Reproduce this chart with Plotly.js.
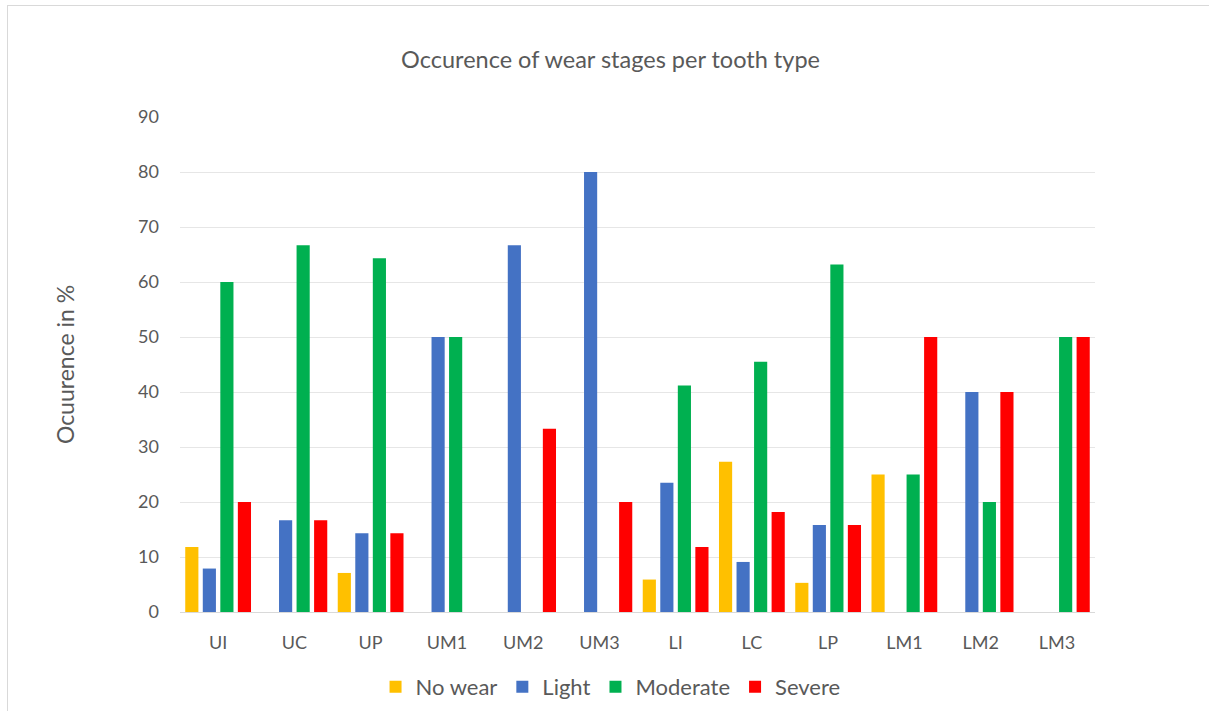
<!DOCTYPE html>
<html>
<head>
<meta charset="utf-8">
<script src="https://cdn.plot.ly/plotly-3.0.1.min.js"></script>
<style>
html,body{margin:0;padding:0;background:#fff;}
#wrap{position:absolute;left:0;top:0;width:1209px;height:711px;overflow:hidden;}
#frame{position:absolute;left:7px;top:5px;width:1210px;height:720px;border-left:1px solid #d9d9d9;border-top:1px solid #d9d9d9;box-sizing:border-box;pointer-events:none;}
#chart{position:absolute;left:0;top:0;width:1209px;height:711px;}
</style>
</head>
<body>
<div id="wrap">
<div id="chart"></div>
<div id="frame"></div>
</div>
<script>
const categories = ["UI","UC","UP","UM1","UM2","UM3","LI","LC","LP","LM1","LM2","LM3"];
const noWear   = [11.8, null, 7.1, null, null, null, 5.9, 27.3, 5.3, 25, null, null];
const light    = [7.9, 16.7, 14.3, 50, 66.7, 80, 23.5, 9.1, 15.8, null, 40, null];
const moderate = [60, 66.7, 64.3, 50, null, null, 41.2, 45.5, 63.2, 25, 20, 50];
const severe   = [20, 16.7, 14.3, null, 33.3, 20, 11.8, 18.2, 15.8, 50, 40, 50];
const seriesNames = ["No wear","Light","Moderate","Severe"];
const tickVals = [0,10,20,30,40,50,60,70,80,90];

const colors = ["#FFC000","#4472C4","#00B050","#FF0000"];
const font = "Lato, 'Open Sans', 'DejaVu Sans', sans-serif";
const txt = "#595959";

const allSeries = [noWear, light, moderate, severe];
const data = allSeries.map((vals, i) => ({
  type: "bar",
  name: seriesNames[i],
  x: categories,
  y: vals,
  marker: {color: colors[i], line: {width: 0}},
  hoverinfo: "x+y+name"
}));

const layout = {
  width: 1209, height: 711,
  paper_bgcolor: "rgba(0,0,0,0)",
  plot_bgcolor: "#fff",
  margin: {l: 180, r: 114, t: 117, b: 99},
  font: {family: font, color: txt},
  title: {text: "Occurence of wear stages per tooth type", x: 0.505, xref: "container", xanchor: "center",
          y: 1 - 60/711, yref: "container", yanchor: "middle",
          font: {family: font, size: 23.5, color: txt}},
  bargap: 0.08,
  bargroupgap: 0.25,
  barmode: "group",
  xaxis: {
    type: "category",
    showgrid: false,
    showline: true, linecolor: "#d9d9d9", linewidth: 1,
    ticks: "", ticklabelstandoff: 14,
    tickfont: {family: font, size: 18, color: txt},
    zeroline: false, fixedrange: true
  },
  yaxis: {
    range: [0, 90],
    tickvals: tickVals,
    showgrid: true, gridcolor: "#e6e6e6", gridwidth: 1,
    zeroline: false, showline: false,
    ticks: "", ticklabelstandoff: 20,
    tickfont: {family: font, size: 18, color: txt},
    title: {text: "Ocuurence in %", standoff: 57, font: {family: font, size: 23, color: txt}},
    fixedrange: true
  },
  showlegend: true,
  legend: {orientation: "h", x: 0.505, xref: "container", xanchor: "center",
           y: 1 - 687/711, yref: "container", yanchor: "middle",
           font: {family: font, size: 22, color: txt}, itemwidth: 30, traceorder: "normal"}
};

Plotly.newPlot("chart", data, layout, {displayModeBar: false, staticPlot: true});
</script>
</body>
</html>
